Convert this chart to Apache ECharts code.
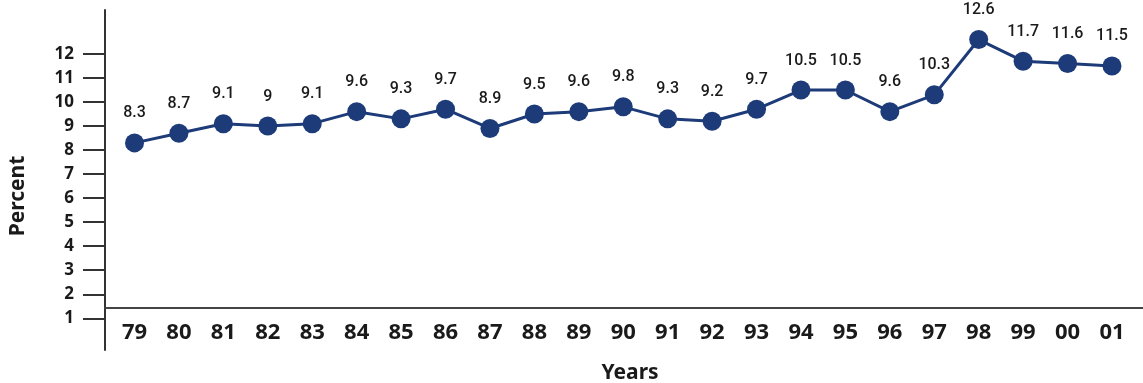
<!DOCTYPE html>
<html>
<head>
<meta charset="utf-8">
<script src="https://cdn.jsdelivr.net/npm/echarts@6/dist/echarts.min.js"></script>
<style>
  html, body { margin: 0; padding: 0; background: #fff; }
  #chart { width: 1143px; height: 383px; }
</style>
</head>
<body>
<div id="chart"></div>
<script>
// Years on the horizontal axis
const years = ['79', '80', '81', '82', '83', '84', '85', '86', '87', '88', '89', '90',
               '91', '92', '93', '94', '95', '96', '97', '98', '99', '00', '01'];
// Percent per year
const percent = [8.3, 8.7, 9.1, 9, 9.1, 9.6, 9.3, 9.7, 8.9, 9.5, 9.6, 9.8,
                 9.3, 9.2, 9.7, 10.5, 10.5, 9.6, 10.3, 12.6, 11.7, 11.6, 11.5];
// Tick values on the percent axis
const percentTicks = [1, 2, 3, 4, 5, 6, 7, 8, 9, 10, 11, 12];

const navy = '#1c3b78';
const ink = '#1a1a1a';
const yearIndex = years.map((_, i) => i);

const chart = echarts.init(document.getElementById('chart'), null, { renderer: 'canvas' });
chart.setOption({
  animation: false,
  backgroundColor: '#fff',
  grid: { left: 105, right: 0, top: 10, bottom: 33, outerBoundsMode: 'none' },
  xAxis: {
    type: 'value',
    min: -0.664,
    max: 22.698,
    offset: -42,
    name: 'Years',
    nameLocation: 'middle',
    nameGap: 55,
    nameTextStyle: { fontFamily: 'Noto Sans', fontWeight: 'bold', fontSize: 21, color: ink, padding: [0, 0, 0, 12] },
    axisLine: { onZero: false, lineStyle: { color: '#444', width: 2 } },
    axisTick: { show: false },
    splitLine: { show: false },
    axisLabel: {
      customValues: yearIndex,
      formatter: v => years[Math.round(v)],
      fontFamily: 'Noto Sans', fontWeight: 'bold', fontSize: 22, color: ink,
      margin: 14
    }
  },
  yAxis: {
    type: 'value',
    min: -0.319,
    max: 13.83,
    name: 'Percent',
    nameLocation: 'middle',
    nameGap: 76,
    nameTextStyle: { fontFamily: 'Noto Sans', fontWeight: 'bold', fontSize: 21, color: ink, padding: [0, 32, 0, 0] },
    axisLine: { show: true, onZero: false, lineStyle: { color: '#333', width: 2 } },
    axisTick: { show: true, customValues: percentTicks, length: 22, lineStyle: { color: '#333', width: 2 } },
    splitLine: { show: false },
    axisLabel: {
      customValues: percentTicks,
      fontFamily: 'Noto Sans', fontWeight: 'bold', fontSize: 17, color: ink,
      margin: 31
    }
  },
  series: [{
    type: 'line',
    data: percent.map((v, i) => [i, v]),
    symbol: 'circle',
    symbolSize: 19,
    itemStyle: { color: navy },
    lineStyle: { color: navy, width: 3 },
    label: {
      show: true,
      position: 'top',
      distance: 12,
      fontFamily: 'Roboto', fontWeight: 500, fontSize: 16, color: ink
    }
  }]
});
</script>
</body>
</html>
